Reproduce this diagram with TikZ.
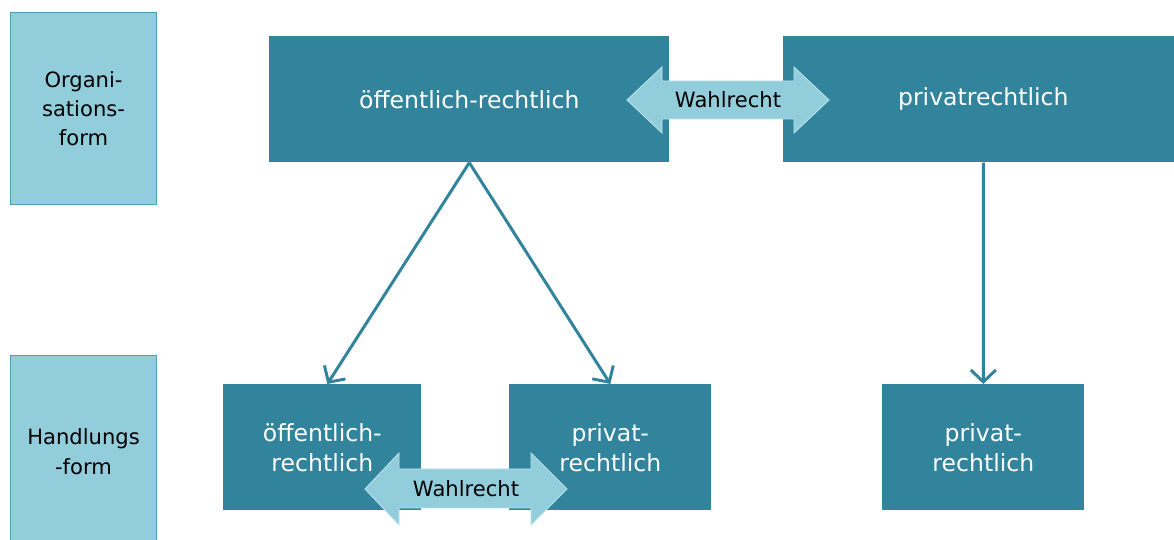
\documentclass[tikz,border=0pt]{standalone}
\usepackage{fontspec}
\setmainfont{DejaVu Sans}
\usetikzlibrary{positioning,arrows.meta}
\definecolor{dunkel}{HTML}{31849B}
\definecolor{hell}{HTML}{92CDDC}
\definecolor{rand}{HTML}{4F9DB2}
\tikzset{
ebene/.style={
	draw=rand,
	line width=0.6pt,
	fill=hell,
	anchor=north west,
	minimum width=2.92cm,
	minimum height=3.84cm,
	align=center,
	font=\fontsize{12}{16.7}\selectfont
}
}
\tikzset{
form/.style={
	fill=dunkel,
	text=white,
	anchor=north west,
	minimum height=2.52cm,
	align=center,
	font=\fontsize{13.4}{17}\selectfont
}
}
\tikzset{
pfeil/.style={
	draw=dunkel,
	line width=1.7pt,
	-{Straight Barb[length=2.4mm,width=5mm]}
},
wahlpfeil/.style={fill=hell, draw=hell!60!white, line width=0.5pt},
wahltext/.style={font=\fontsize{12}{14}\selectfont}
}

\begin{document}
\begin{tikzpicture}[x=0.02cm,y=-0.02cm]
		\useasboundingbox (0,0) rectangle (1174,540);
		% Ebenen links
		\node[ebene] (org) at (10,12) {Organi-\\sations-\\form};
		\node[ebene] (hand) at (10,355) {Handlungs\\-form};
		% Organisationsform
		\node[form, minimum width=8cm] (oeff) at (269,36) {öffentlich-rechtlich};
		\node[form, minimum width=8cm] (priv) at (783,36) {privatrechtlich};
		% Handlungsform
		\node[form, minimum width=3.96cm] (hoeff) at (223,384) {öffentlich-\\rechtlich};
		\node[form, minimum width=4.04cm] (hpriv) at (509,384) {privat-\\rechtlich};
		\node[form, minimum width=4.04cm] (hpriv2) at (882,384) {privat-\\rechtlich};
		% Verbindungen
		\draw[pfeil] (oeff.south) -- ([xshift=0.1cm]hoeff.north);
		\draw[pfeil] (oeff.south) -- (hpriv.north);
		\draw[pfeil] (priv.south) -- (hpriv2.north);
		% Wahlrecht
		\draw[wahlpfeil] (627,100) -- (662,67) -- (662,81) -- (794,81) -- (794,67) -- (829,100)
			-- (794,133) -- (794,119) -- (662,119) -- (662,133) -- cycle;
		\node[wahltext] (wahl1) at (728,100) {Wahlrecht};
		\draw[wahlpfeil] (365,489) -- (399,453) -- (399,469) -- (531,469) -- (531,453) -- (567,489)
			-- (531,525) -- (531,508) -- (399,508) -- (399,525) -- cycle;
		\node[wahltext] (wahl2) at (466,489) {Wahlrecht};
\end{tikzpicture}
\end{document}
